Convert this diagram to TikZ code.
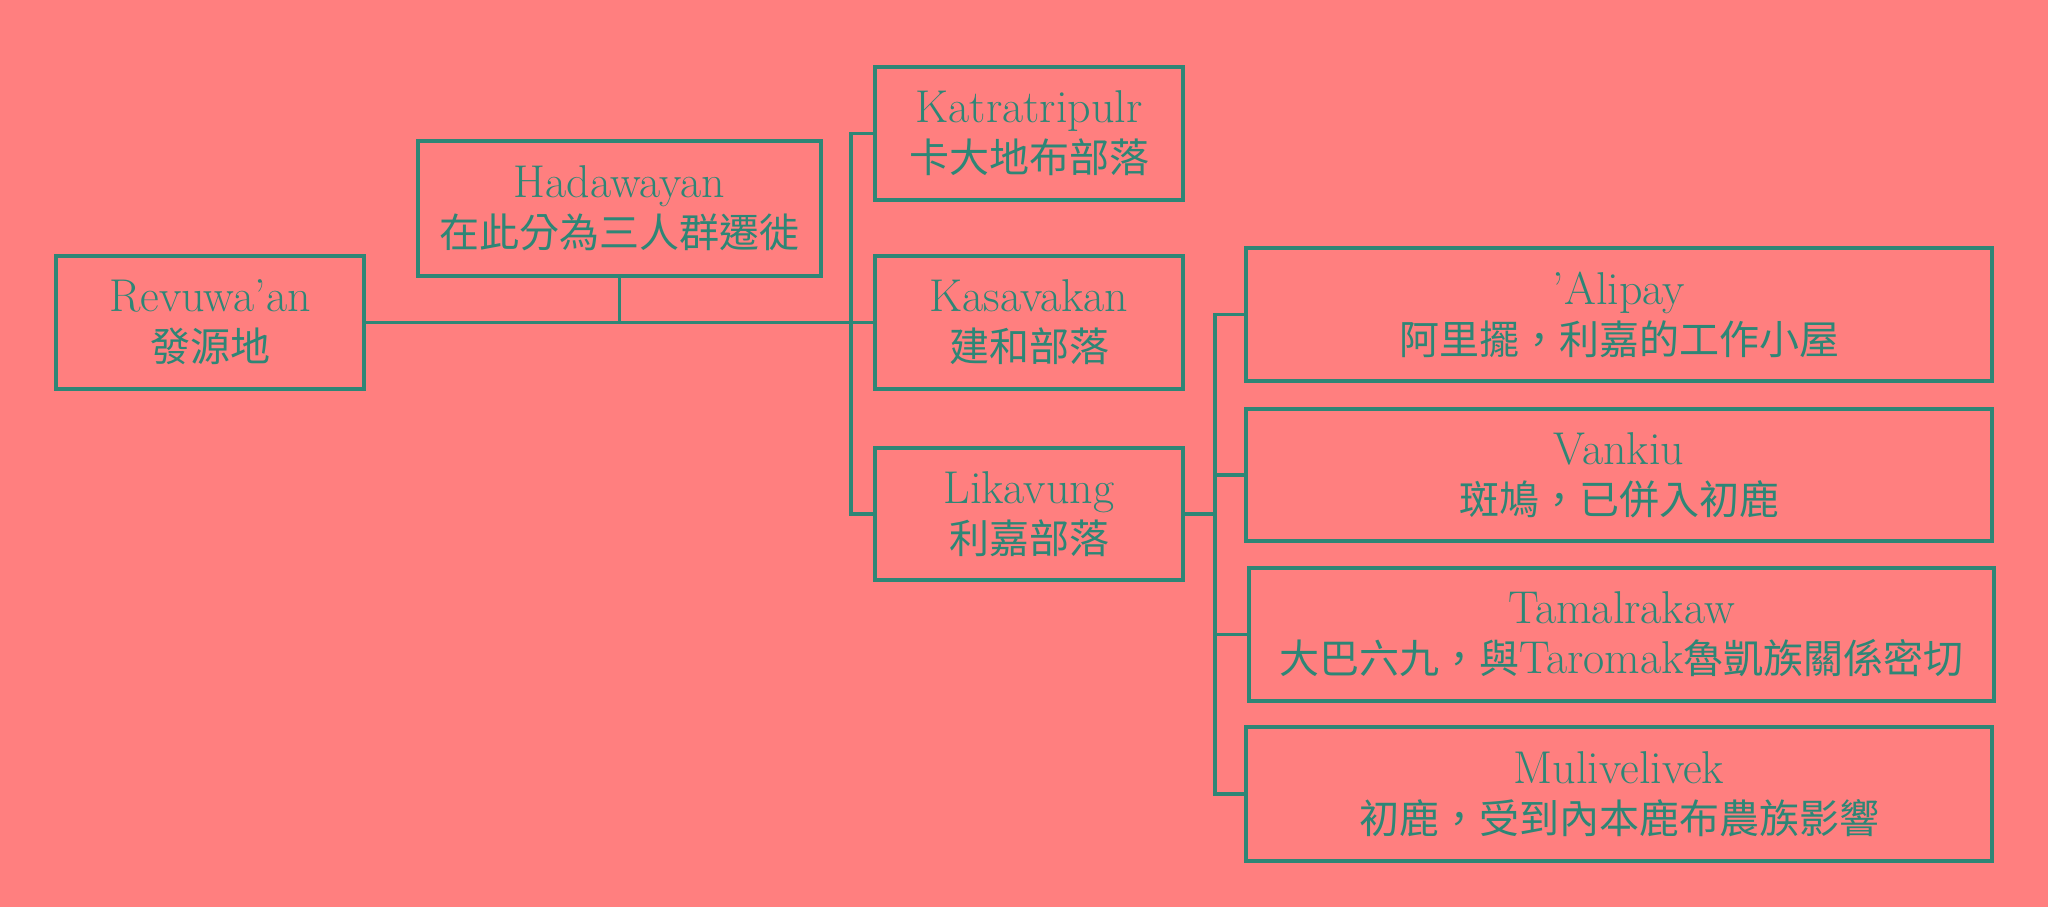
\documentclass[tikz,border=0pt]{standalone}
\usepackage{fontspec}
\newfontfamily\cjkfam{Noto Sans CJK TC}
\newcommand{\cj}[1]{{\cjkfam\fontsize{40}{50}\selectfont #1}}
\definecolor{bg}{RGB}{255,127,127}
\definecolor{ln}{RGB}{46,134,118}
\begin{document}
\begin{tikzpicture}[x=1pt,y=-1pt,
  box/.style={draw=ln, line width=3.2pt, text=ln, align=center, inner sep=0pt,
    font=\fontsize{46}{50}\selectfont},
  conn/.style={draw=ln, line width=3.2pt}]
\fill[bg] (0,0) rectangle (2048,907);
\useasboundingbox (0,0) rectangle (2048,907);
\node[box, minimum width=308, minimum height=133] (rev) at (210,322.5) {Revuwa’an\\\cj{發源地}};
\node[box, minimum width=403, minimum height=135] (had) at (619.5,208.5) {Hadawayan\\\cj{在此分為三人群遷徙}};
\node[box, minimum width=308, minimum height=133] (kat) at (1029,133.5) {Katratripulr\\\cj{卡大地布部落}};
\node[box, minimum width=308, minimum height=133] (kas) at (1029,322.5) {Kasavakan\\\cj{建和部落}};
\node[box, minimum width=308, minimum height=132] (lik) at (1029,514) {Likavung\\\cj{利嘉部落}};
\node[box, minimum width=746, minimum height=133] (ali) at (1619,314.5) {’Alipay\\\cj{阿里擺，利嘉的工作小屋}};
\node[box, minimum width=746, minimum height=132] (van) at (1619,475) {Vankiu\\\cj{斑鳩，已併入初鹿}};
\node[box, minimum width=745, minimum height=133] (tam) at (1621.5,634.5) {Tamalrakaw\\\cj{大巴六九，與}Taromak\cj{魯凱族關係密切}};
\node[box, minimum width=746, minimum height=134] (mul) at (1619,794) {Mulivelivek\\\cj{初鹿，受到內本鹿布農族影響}};
\coordinate (j1) at (851,322.5);
\coordinate (j2) at (1215,514);
\draw[conn] (rev.east) -- (kas.west);
\draw[conn] (had.south) -- (had.south |- rev.east);
\draw[conn] (kat.west) -- (kat.west -| j1) -- (lik.west -| j1) -- (lik.west);
\draw[conn] (lik.east) -- (j2);
\draw[conn] (ali.west) -- (ali.west -| j2) -- (mul.west -| j2) -- (mul.west);
\draw[conn] (van.west -| j2) -- (van.west);
\draw[conn] (tam.west -| j2) -- (tam.west);
\end{tikzpicture}
\end{document}
